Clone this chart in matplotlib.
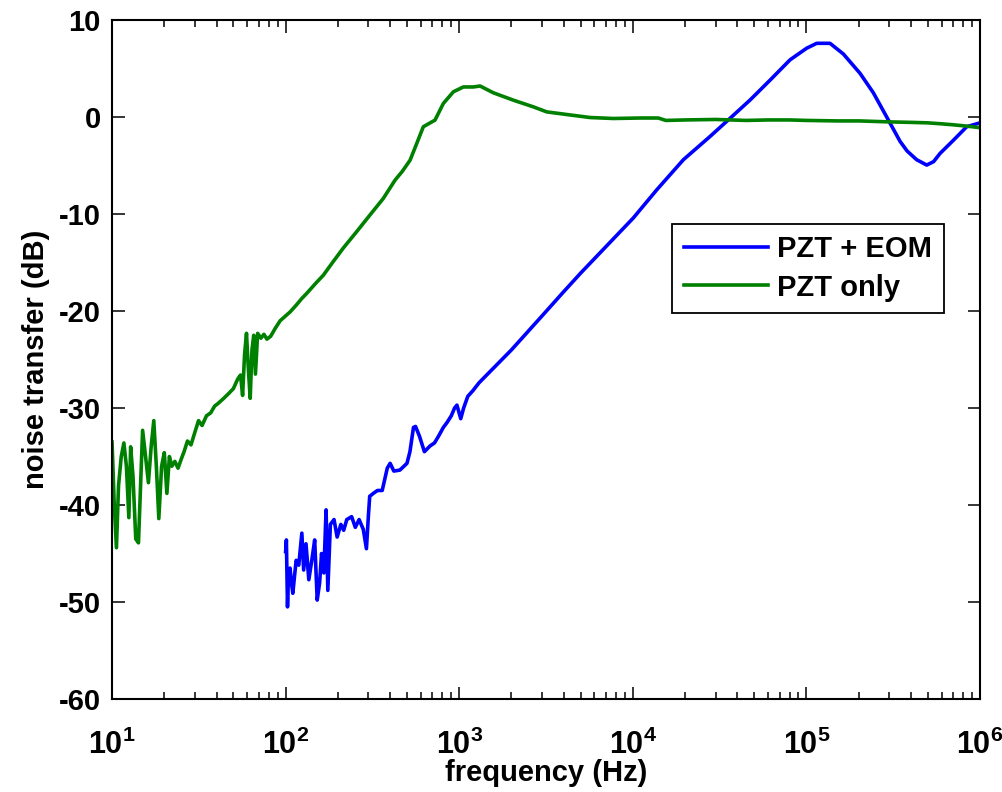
import numpy as np
import matplotlib
matplotlib.use('Agg')
import matplotlib.pyplot as plt
from matplotlib.ticker import LogLocator, NullFormatter

plt.rcParams['font.family'] = ['Liberation Sans', 'DejaVu Sans']
plt.rcParams['font.weight'] = 'bold'
plt.rcParams['axes.unicode_minus'] = False
plt.rcParams['mathtext.fontset'] = 'custom'
plt.rcParams['mathtext.rm'] = 'Liberation Sans:bold'
plt.rcParams['mathtext.it'] = 'Liberation Sans:bold'
plt.rcParams['mathtext.bf'] = 'Liberation Sans:bold'

# PZT only (green)
f_pzt = [10.0, 10.3, 10.6, 10.9, 11.3, 11.7, 12.1, 12.5, 12.8, 13.2, 13.7, 14.2,
         14.6, 15.0, 15.6, 16.2, 16.8, 17.4, 18.0, 18.6, 19.3, 20.0, 20.7, 21.4,
         22.1, 23.0, 24.0, 25.0, 26.0, 27.2, 28.5, 30.0, 31.5, 33.0, 35.0, 37.0,
         39.0, 41.0, 44.0, 47.0, 50.0, 53.0, 55.0, 56.5, 58.0, 59.5, 61.0, 62.5,
         64.0, 65.5, 67.0, 69.0, 72.0, 75.0, 78.0, 82.0, 87.0, 93.0, 100, 106,
         115, 124, 132, 148, 165, 188, 215, 257, 306, 365, 427, 470, 521, 569,
         621, 680, 725, 810, 925, 1056, 1206, 1318, 1572, 2049, 2673, 3192, 4163,
         5668, 7722, 11000, 14000, 15500, 20000, 30000, 45000, 60000, 80000,
         100000, 150000, 200000, 300000, 400000, 500000, 600000, 700000, 800000,
         900000, 1000000]
db_pzt = [-33.5, -40.0, -44.4, -38.0, -35.0, -33.6, -36.0, -41.3, -34.0, -37.0,
          -43.5, -43.9, -38.0, -32.3, -35.0, -37.7, -34.0, -31.3, -36.0, -41.4,
          -36.0, -34.6, -38.8, -35.0, -36.0, -35.5, -36.2, -35.3, -34.5, -33.4,
          -33.8, -32.5, -31.3, -31.8, -30.8, -30.5, -29.8, -29.5, -29.0, -28.5,
          -28.0, -27.0, -26.6, -28.7, -24.5, -22.3, -26.0, -29.0, -24.0, -22.5,
          -26.5, -22.3, -22.8, -22.4, -22.9, -22.6, -21.8, -21.0, -20.5, -20.1,
          -19.4, -18.7, -18.2, -17.2, -16.3, -14.9, -13.5, -11.8, -10.1, -8.4,
          -6.5, -5.6, -4.45, -2.73, -1.0, -0.6, -0.32, 1.4, 2.6, 3.1, 3.1, 3.2,
          2.5, 1.74, 1.05, 0.53, 0.26, -0.05, -0.15, -0.1, -0.1, -0.35, -0.3,
          -0.25, -0.35, -0.3, -0.3, -0.35, -0.4, -0.4, -0.5, -0.55, -0.6, -0.7,
          -0.8, -0.9, -1.0, -1.1]

# PZT + EOM (blue)
f_eom = [100, 101, 102.5, 104, 106, 108, 110, 113, 115, 119, 124, 127, 131, 136,
         142, 147, 152, 157, 161, 166, 171, 175, 181, 190, 198, 208, 216, 225,
         240, 252, 265, 280, 292, 300, 305, 320, 338, 360, 385, 400, 420, 455,
         500, 520, 545, 560, 590, 630, 680, 720, 760, 810, 850, 900, 940, 970,
         1020, 1060, 1120, 1200, 1300, 2000, 3000, 4000, 5000, 6471, 10070,
         13740, 19550, 27860, 36310, 47320, 61700, 80500, 100400, 114600,
         136700, 163200, 203700, 242900, 290100, 346000, 380000, 431500,
         493000, 540000, 588500, 702000, 838000, 977000, 1000000]
db_eom = [-44.8, -43.6, -50.5, -47.0, -46.5, -48.0, -49.1, -47.0, -45.7, -46.2,
          -42.9, -46.7, -44.0, -47.7, -45.5, -43.6, -49.8, -48.0, -45.0, -47.0,
          -40.5, -48.8, -42.0, -41.5, -43.3, -42.0, -42.6, -41.5, -41.2, -42.3,
          -41.5, -42.5, -44.5, -41.0, -39.1, -38.8, -38.5, -38.5, -36.2, -35.7,
          -36.5, -36.4, -35.7, -34.5, -32.0, -31.9, -32.9, -34.5, -33.9, -33.6,
          -32.9, -32.0, -31.5, -30.8, -30.0, -29.7, -31.1, -30.0, -28.8, -28.2,
          -27.4, -24.0, -20.5, -18.0, -16.1, -14.0, -10.4, -7.5, -4.4, -2.0,
          -0.13, 1.75, 3.8, 5.9, 7.1, 7.6, 7.6, 6.5, 4.5, 2.5, 0.0, -2.5, -3.5,
          -4.4, -4.95, -4.6, -3.75, -2.4, -1.0, -0.65, -0.6]

fig = plt.figure(figsize=(10.03, 7.92), dpi=100)
ax = fig.add_axes([0.1117, 0.1174, 0.8654, 0.8573])

ax.semilogx(f_eom, db_eom, color=(0, 0, 1), lw=2.6, label='PZT + EOM')
ax.semilogx(f_pzt, db_pzt, color=(0, 0.5, 0), lw=2.6, label='PZT only')

ax.set_xlim(10, 1e6)
ax.set_ylim(-60, 10)
ax.set_yticks(np.arange(-60, 11, 10))
ax.set_xticks([1e1, 1e2, 1e3, 1e4, 1e5, 1e6])
ax.set_xticklabels(['$10^{%d}$' % k for k in range(1, 7)])
ax.xaxis.set_minor_locator(LogLocator(base=10, subs=np.arange(2, 10), numticks=100))
ax.xaxis.set_minor_formatter(NullFormatter())

ax.tick_params(which='both', direction='in', top=True, right=True,
               labelsize=21, width=1.1, pad=8)
ax.tick_params(axis='x', which='major', pad=22, labelsize=22)
ax.tick_params(which='major', length=9)
ax.tick_params(which='minor', length=5)
for s in ax.spines.values():
    s.set_linewidth(1.5)

ax.set_xlabel('frequency (Hz)', fontsize=21, fontweight='bold', labelpad=-1)
ax.set_ylabel('noise transfer (dB)', fontsize=21, fontweight='bold', labelpad=6)

leg = ax.legend(loc='upper right', bbox_to_anchor=(0.958, 0.70),
                borderaxespad=0, fancybox=False, framealpha=1,
                prop={'size': 21, 'weight': 'bold'}, handlelength=2.9,
                handletextpad=0.3, labelspacing=0.35, borderpad=0.4)
leg.get_frame().set_edgecolor('black')
leg.get_frame().set_linewidth(1.3)

fig.savefig('out.png', dpi=100)
